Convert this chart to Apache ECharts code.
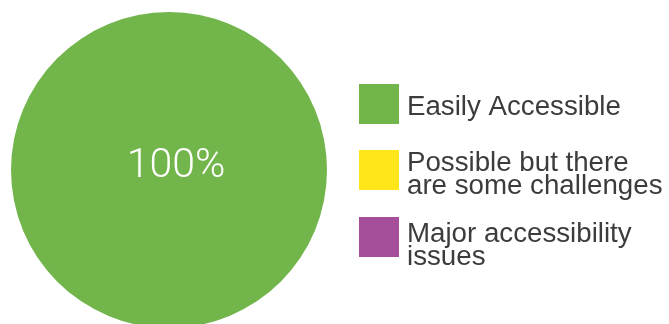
<!DOCTYPE html>
<html>
<head>
<meta charset="utf-8">
<script src="https://cdn.jsdelivr.net/npm/echarts@6/dist/echarts.min.js"></script>
<style>
html,body{margin:0;padding:0;background:#fff;}
#c{width:669px;height:324px;}
</style>
</head>
<body>
<div id="c"></div>
<script>
var categories = ['Easily Accessible', 'Possible but there are some challenges', 'Major accessibility issues'];
var legendLabels = ['Easily Accessible', 'Possible but there\nare some challenges', 'Major accessibility\nissues'];
var values = [100, 0, 0];
var colors = ['#72b54b', '#ffe61a', '#a54f9b'];

var chart = echarts.init(document.getElementById('c'), null, {renderer: 'canvas'});
var total = values.reduce(function(a, b){ return a + b; }, 0);
var iconTops = [84, 150, 217];
var textTops = [93, 149, 220];
var legends = [];
categories.forEach(function(name, i){
  // colour swatch
  legends.push({
    data: [name],
    left: 359,
    top: iconTops[i],
    padding: 0,
    icon: 'rect',
    itemWidth: 40,
    itemHeight: 40,
    selectedMode: false,
    formatter: function(){ return ''; }
  });
  // label text
  legends.push({
    data: [name],
    left: 359,
    top: textTops[i],
    padding: 0,
    icon: 'rect',
    itemWidth: 43,
    itemHeight: 1,
    itemStyle: {opacity: 0},
    selectedMode: false,
    formatter: function(){ return legendLabels[i]; },
    textStyle: {
      fontFamily: 'Liberation Sans, Arial, sans-serif',
      fontSize: 27.7,
      lineHeight: 23,
      color: '#3c3c3c'
    }
  });
});
chart.setOption({
  animation: false,
  color: colors,
  legend: legends,
  series: [{
    type: 'pie',
    center: [169, 170],
    radius: [0, 158],
    startAngle: 90,
    clockwise: true,
    avoidLabelOverlap: false,
    emphasis: {disabled: true},
    labelLine: {show: false},
    data: categories.map(function(name, i){
      return {
        name: name,
        value: values[i],
        label: {
          show: values[i] > 0,
          position: 'center',
          formatter: function(p){ return Math.round(p.value / total * 100) + '%'; },
          color: '#ffffff',
          fontFamily: 'Roboto, Lato, sans-serif',
          fontWeight: 300,
          fontSize: 41,
          offset: [7, -3]
        }
      };
    })
  }]
});
</script>
</body>
</html>
